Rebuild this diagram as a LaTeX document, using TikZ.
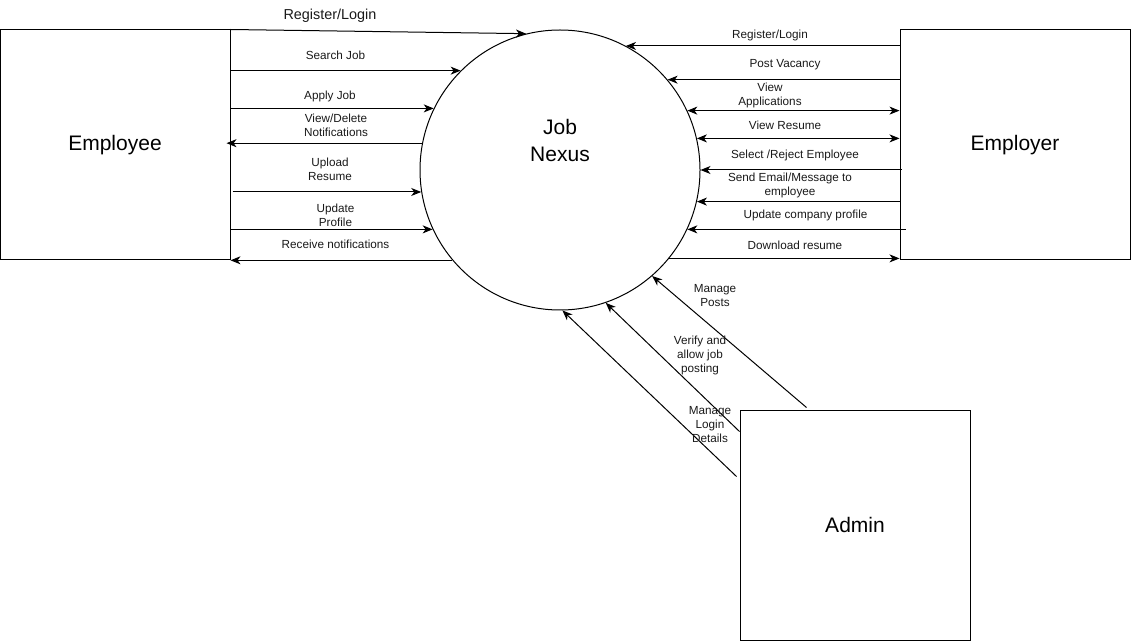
\documentclass[tikz,border=0pt]{standalone}
\usepackage{fontspec}
\setmainfont{Liberation Sans}
\usetikzlibrary{arrows.meta,calc}
\begin{document}
\begin{tikzpicture}[x=0.75pt,y=-0.75pt,
  line width=0.75pt,
  arr/.style={-{Stealth[length=7.5pt,width=6pt,inset=2.2pt]}},
  darr/.style={{Stealth[length=7.5pt,width=6pt,inset=2.2pt]}-{Stealth[length=7.5pt,width=6pt,inset=2.2pt]}},
  entity/.style={draw, minimum width=172.5pt, minimum height=172.5pt, inner sep=0pt,
    font=\fontsize{15.75}{20}\selectfont},
  lbl/.style={inner sep=0pt, align=center, text=black!90, font=\fontsize{8.8}{10.5}\selectfont},
  biglbl/.style={inner sep=0pt, align=center, text=black!90, font=\fontsize{10.8}{13}\selectfont}
]
\useasboundingbox (0,0) rectangle (1131,641);

% entities
\node[entity] (emp) at (115,145) {Employee};
\node[entity] (empr) at (1015,145) {Employer};
\node[entity] (adm) at (855,525) {Admin};
\node[circle, draw, minimum size=210pt, inner sep=0pt] (nexus) at (560,170) {};
\node[inner sep=0pt, align=center, font=\fontsize{15.75}{20.25}\selectfont] (nexuslbl) at (560,140.5) {Job\\Nexus};

% employee side
\draw[arr] (emp.north east) -- (nexus.104);
\draw[arr] (emp.east |- nexus.135) -- (nexus.135);
\draw[arr] (emp.east |- nexus.154.6) -- (nexus.154.6);
\draw[arr] (nexus.169.7) -- ([xshift=-3pt]emp.east |- nexus.169.7);
\draw[arr] ([xshift=1.5pt]emp.east |- nexus.189) -- (nexus.189);
\draw[arr] (emp.east |- nexus.205.4) -- (nexus.205.4);
\draw[arr] (nexus.220.5) -- (emp.east |- nexus.220.5);

\node[biglbl] (l1) at (330,16) {Register/Login};
\node[lbl] (l2) at (335.5,55) {Search Job};
\node[lbl] (l3) at (330,96) {Apply Job};
\node[lbl] (l4) at (336,125) {View/Delete\\Notifications};
\node[lbl] (l5) at (330,169.5) {Upload\\Resume};
\node[lbl] (l6) at (335.5,215) {Update\\Profile};
\node[lbl] (l7) at (335.5,244) {Receive notifications};

% employer side
\draw[arr] (empr.west |- nexus.62.9) -- (nexus.62.9);
\draw[arr] (empr.west |- nexus.40) -- (nexus.40);
\draw[darr] (nexus.25.4) -- (empr.west |- nexus.25.4);
\draw[darr] (nexus.13.6) -- (empr.west |- nexus.13.6);
\draw[arr] ([xshift=1.5pt]empr.west |- nexus.0.4) -- (nexus.0.4);
\draw[arr] (empr.west |- nexus.-13.6) -- (nexus.-13.6);
\draw[arr] ([xshift=4.5pt]empr.west |- nexus.-25.8) -- (nexus.-25.8);
\draw[arr] (nexus.-39.5) -- (empr.west |- nexus.-39.5);

\node[lbl] (r1) at (770,35) {Register/Login};
\node[lbl] (r2) at (785,65) {Post Vacancy};
\node[lbl] (r3) at (770,95.5) {View\\Applications};
\node[lbl] (r4) at (785,125) {View Resume};
\node[lbl] (r5) at (795,155) {Select /Reject Employee};
\node[lbl] (r6) at (790,185.5) {Send Email/Message to\\employee};
\node[lbl] (r7) at (805.5,215) {Update company profile};
\node[lbl] (r8) at (795,245) {Download resume};

% admin
\draw[arr] ($(adm.north west)+(67,-2)$) -- (nexus.-49);
\draw[arr] ($(adm.north west)+(0,22)$) -- (nexus.-71.4);
\draw[arr] ($(adm.north west)+(-3,67)$) -- (nexus.-89.2);

\node[lbl] (a1) at (715,295.5) {Manage\\Posts};
\node[lbl] (a2) at (700,355) {Verify and\\allow job\\posting};
\node[lbl] (a3) at (710,425) {Manage\\Login\\Details};
\end{tikzpicture}
\end{document}
